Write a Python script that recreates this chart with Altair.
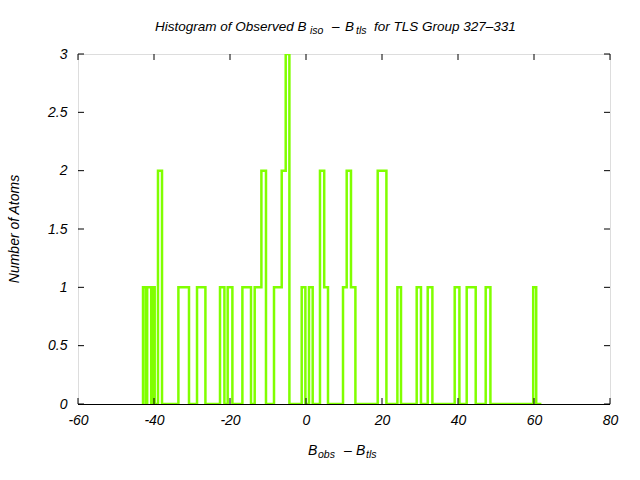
import altair as alt
import pandas as pd

# Histogram outline: edge positions (B_obs - B_tls) and the count to the right of each edge
edges = [-42.89, -42.89, -42.18, -41.79, -40.74, -40.34, -39.82, -38.95, -37.89,
         -33.58, -30.79, -28.68, -26.47, -22.63, -21.47, -20.61, -19.37,
         -16.74, -14.47, -13.50, -11.74, -10.53, -8.42, -6.39, -5.34, -4.37,
         -1.13, -0.16, 0.79, 1.76, 3.68, 4.79, 5.79, 9.74, 10.71, 11.84, 13.0,
         18.87, 21.16, 24.05, 25.0, 29.13, 30.26, 32.03, 33.26, 39.13, 40.37,
         42.29, 44.66, 47.29, 48.53, 59.79, 60.58, 61.95]
counts = [0, 1, 0, 1, 0, 1, 0, 2, 0,
          1, 0, 1, 0, 1, 0, 1, 0,
          1, 0, 1, 2, 0, 1, 2, 3, 0,
          1, 0, 1, 0, 2, 1, 0, 1, 2, 1, 0,
          2, 0, 1, 0, 1, 0, 1, 0, 1, 0,
          1, 0, 1, 0, 1, 0, 0]
x_ticks = [-60, -40, -20, 0, 20, 40, 60, 80]
y_ticks = [0, 0.5, 1, 1.5, 2, 2.5, 3]

W, H = 532, 350
L, T = 78, 54
GREEN = "#80ff00"
FONT = "Liberation Sans"

step_df = pd.DataFrame({"i": list(range(len(edges))), "x": edges, "y": counts})
xscale = alt.Scale(domain=[-60, 80], nice=False, zero=False)
yscale = alt.Scale(domain=[0, 3], nice=False)

xaxis = alt.Axis(values=x_ticks, ticks=False, domain=False, grid=False,
                 labelExpr="'' + datum.value", labelFont=FONT,
                 labelFontStyle="italic", labelFontSize=14,
                 labelColor="black", labelPadding=9, labelOverlap=False,
                 labelFlush=False, labelBound=False, title=None)
yaxis = alt.Axis(values=y_ticks, ticks=False, domain=False, grid=False,
                 labelExpr="'' + datum.value", labelFont=FONT,
                 labelFontStyle="italic", labelFontSize=14,
                 labelColor="black", labelPadding=11, labelOverlap=False,
                 labelFlush=False, labelBound=False, title=None)

hist = alt.Chart(step_df).mark_line(
    interpolate="step-after", color=GREEN, strokeWidth=2.5, clip=True
).encode(
    x=alt.X("x:Q", scale=xscale, axis=xaxis),
    y=alt.Y("y:Q", scale=yscale, axis=yaxis),
    order="i:Q",
)

xt = pd.DataFrame({"x": x_ticks})
yt = pd.DataFrame({"y": y_ticks})
tick_b = alt.Chart(xt).mark_rule(color="black", strokeWidth=1).encode(
    x=alt.X("x:Q", scale=xscale, axis=xaxis), y=alt.value(H), y2=alt.value(H - 6))
tick_t = alt.Chart(xt).mark_rule(color="black", strokeWidth=1).encode(
    x=alt.X("x:Q", scale=xscale, axis=xaxis), y=alt.value(0), y2=alt.value(6))
tick_l = alt.Chart(yt).mark_rule(color="black", strokeWidth=1).encode(
    y=alt.Y("y:Q", scale=yscale, axis=yaxis), x=alt.value(0), x2=alt.value(6))
tick_r = alt.Chart(yt).mark_rule(color="black", strokeWidth=1).encode(
    y=alt.Y("y:Q", scale=yscale, axis=yaxis), x=alt.value(W), x2=alt.value(W - 6))
base = alt.Chart(alt.Data(values=[{}])).mark_rule(color="black", strokeWidth=1).encode(
    x=alt.value(0), x2=alt.value(W), y=alt.value(H + 0.5))


def txt(s, px, py, size=13.5, angle=0, align="left"):
    return alt.Chart(alt.Data(values=[{}])).mark_text(
        text=s, font=FONT, fontStyle="italic", fontSize=size, color="black",
        align=align, baseline="alphabetic", angle=angle
    ).encode(x=alt.value(px - L), y=alt.value(py - T))


labels = [
    txt("Histogram of Observed B", 155, 31),
    txt("iso", 310, 34, size=10.5),
    txt("–", 332, 31),
    txt("B", 345, 31),
    txt("tls", 356, 34, size=10.5),
    txt("for TLS Group 327–331", 374, 31),
    txt("B", 308, 455, size=14),
    txt("obs", 318, 458, size=10.5),
    txt("–", 344, 455, size=14),
    txt("B", 356, 455, size=14),
    txt("tls", 366, 458, size=10.5),
    alt.Chart(alt.Data(values=[{}])).mark_text(
        text="Number of Atoms", font=FONT, fontStyle="italic", fontSize=14,
        color="black", align="center", baseline="middle", angle=270
    ).encode(x=alt.value(15 - L), y=alt.value(229 - T)),
]

chart = alt.layer(hist, tick_b, tick_t, tick_l, tick_r, base, *labels).properties(
    width=W, height=H,
    autosize=alt.AutoSizeParams(type="none"),
    padding={"left": L, "top": T, "right": 640 - L - W, "bottom": 480 - T - H},
).configure_view(stroke="black", strokeWidth=1).configure(background="white")

chart.save("out.html", embed_options={"renderer": "svg", "actions": False})
